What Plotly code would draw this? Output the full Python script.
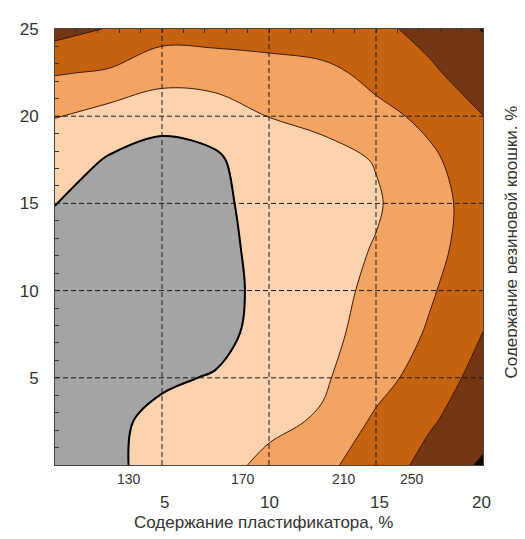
import plotly.graph_objects as go

# Grid coordinates (plasticizer %, rubber crumb %)
X_VALS = [0, 2.5, 5, 7.5, 10, 12.5, 15, 17.5, 20]
Y_VALS = [0, 2.5, 5, 7.5, 10, 12.5, 15, 17.5, 20, 22.5, 25]

# Response values (rows follow Y_VALS)
Z_Y00 = [112, 124, 140, 158, 178, 201, 229, 262, 296]
Z_Y025 = [116, 124, 137, 148, 162, 174, 217, 246, 272]
Z_Y05 = [110, 112, 126, 132, 150, 165, 195, 229, 264]
Z_Y075 = [108, 106, 110, 121, 141, 158, 186, 214, 251]
Z_Y10 = [106, 103, 106, 119, 139, 157, 178, 206, 235]
Z_Y125 = [112, 106, 108, 122, 139, 155, 172, 199, 228]
Z_Y15 = [131, 118, 115, 125, 139, 153, 166, 196, 227]
Z_Y175 = [150, 127, 118, 127, 143, 157, 172, 203, 233]
Z_Y20 = [171, 155, 140, 140, 171, 180, 199, 219, 249.5]
Z_Y225 = [213, 206, 187, 196, 201, 199, 222, 244, 270]
Z_Y25 = [264, 248, 225, 221, 221, 238, 241, 262, 292]
Z = [Z_Y00, Z_Y025, Z_Y05, Z_Y075, Z_Y10, Z_Y125, Z_Y15, Z_Y175, Z_Y20, Z_Y225, Z_Y25]

LEVEL_START = 130
LEVEL_END = 290
LEVEL_STEP = 40

# Contour level labels under the plot
LEVEL_LABELS = ["130", "170", "210", "250"]
LEVEL_LABEL_X = [3.45, 8.8, 13.5, 16.7]

# Bottom axis labels
X_TICK_LABELS = ["0", "5", "10", "15", "20"]
X_TICK_POS = [-1.05, 5.1, 10.0, 15.15, 19.95]

Y_TICKS = [5, 10, 15, 20, 25]
GRID_X = [5, 10, 15]
GRID_Y = [5, 10, 15, 20]

X_TITLE = "Содержание пластификатора, %"
Y_TITLE = "Содержание резиновой крошки, %"

C_GRAY = "#a4a4a4"
C_PEACH = "#fdd2ae"
C_MID = "#f4a462"
C_DARK = "#c6620f"
C_BROWN = "#723712"
C_BLACK = "#120600"

colorscale = [
    [0.0, C_GRAY], [0.1, C_GRAY],
    [0.1, C_PEACH], [0.3, C_PEACH],
    [0.3, C_MID], [0.5, C_MID],
    [0.5, C_DARK], [0.7, C_DARK],
    [0.7, C_BROWN], [0.9, C_BROWN],
    [0.9, C_BLACK], [1.0, C_BLACK],
]

FONT = "Liberation Sans, Arial, sans-serif"
TXT = "#333333"

fig = go.Figure()
fig.add_trace(go.Contour(
    x=X_VALS, y=Y_VALS, z=Z,
    autocontour=False,
    contours=dict(start=LEVEL_START, end=LEVEL_END, size=LEVEL_STEP, coloring="fill"),
    colorscale=colorscale,
    zmin=LEVEL_START - LEVEL_STEP / 2, zmax=LEVEL_END + LEVEL_STEP / 2,
    showscale=False,
    line=dict(color="#3a1a08", width=1, smoothing=1.0),
    hoverinfo="skip",
))
fig.add_trace(go.Contour(
    x=X_VALS, y=Y_VALS, z=Z,
    autocontour=False,
    contours=dict(start=LEVEL_START, end=LEVEL_START, size=LEVEL_STEP, coloring="none"),
    showscale=False,
    line=dict(color="#000000", width=2, smoothing=1.0),
    hoverinfo="skip",
))

shapes = []
for gx in GRID_X:
    shapes.append(dict(type="line", xref="x", yref="paper", x0=gx, x1=gx, y0=0, y1=1,
                       line=dict(color="#1a1a1a", width=1, dash="5px,3px"), layer="above"))
for gy in GRID_Y:
    shapes.append(dict(type="line", xref="paper", yref="y", x0=0, x1=1, y0=gy, y1=gy,
                       line=dict(color="#1a1a1a", width=1, dash="5px,3px"), layer="above"))

annotations = []
for lab, lx in zip(LEVEL_LABELS, LEVEL_LABEL_X):
    annotations.append(dict(text=lab, x=lx, xref="x", y=-0.031, yref="paper",
                            showarrow=False, xanchor="center", yanchor="middle",
                            font=dict(size=14, color=TXT, family=FONT)))
for lab, lx in zip(X_TICK_LABELS, X_TICK_POS):
    annotations.append(dict(text=lab, x=lx, xref="x", y=-0.086, yref="paper",
                            showarrow=False, xanchor="center", yanchor="middle",
                            font=dict(size=17, color=TXT, family=FONT)))
annotations.append(dict(text=X_TITLE, x=0.487, xref="paper", y=-0.131, yref="paper",
                        showarrow=False, xanchor="center", yanchor="middle",
                        font=dict(size=17, color=TXT, family=FONT)))
annotations.append(dict(text=Y_TITLE, x=1.067, xref="paper", y=0.512, yref="paper",
                        showarrow=False, xanchor="center", yanchor="middle", textangle=-90,
                        font=dict(size=17, color=TXT, family=FONT)))

# The page body adds an 8px offset, so the figure is sized and margined to compensate
fig.update_layout(
    width=517, height=531,
    margin=dict(l=40, r=42, t=12, b=74),
    paper_bgcolor="white", plot_bgcolor="white",
    showlegend=False,
    shapes=shapes,
    annotations=annotations,
    xaxis=dict(range=[0, 20], side="top", showgrid=False, zeroline=False,
               showticklabels=False, ticks="inside", ticklen=4, tickcolor="#333",
               tickvals=[0, 5, 10, 15, 20],
               minor=dict(ticks="inside", dtick=1, ticklen=4, tickcolor="#333", showgrid=False),
               showline=True, linecolor="#444", linewidth=1, mirror=True),
    yaxis=dict(range=[0, 25], showgrid=False, zeroline=False,
               tickvals=Y_TICKS, ticks="inside", ticklen=4, tickcolor="#333",
               minor=dict(ticks="inside", dtick=1, ticklen=4, tickcolor="#333", showgrid=False),
               tickfont=dict(size=17, color=TXT, family=FONT), ticklabelstandoff=12,
               showline=True, linecolor="#444", linewidth=1, mirror=True),
)

fig.write_html("out.html")
